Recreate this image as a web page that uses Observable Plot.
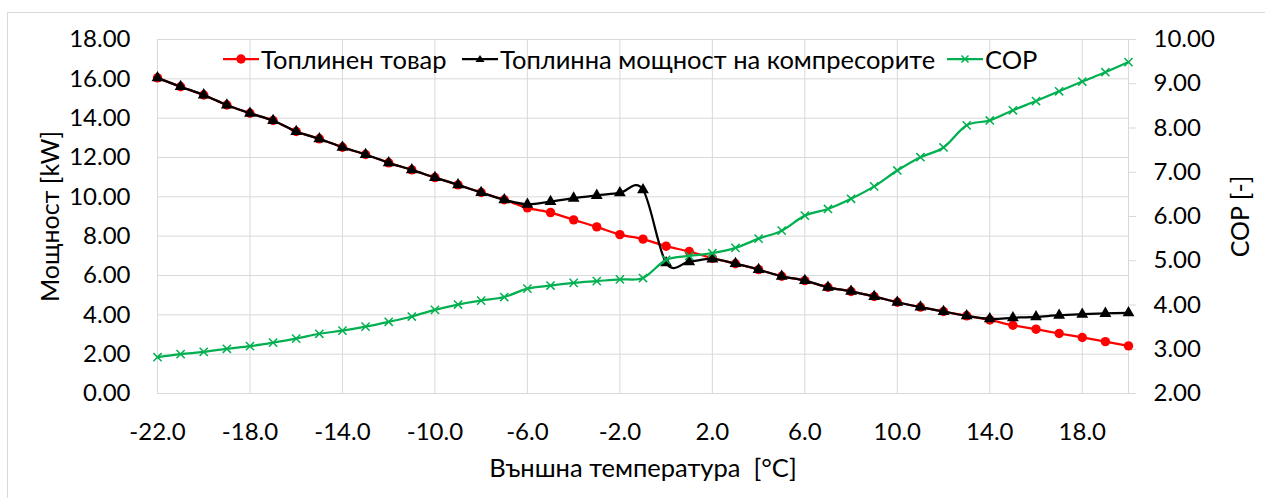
<!DOCTYPE html>
<html>
<head>
<meta charset="utf-8">
<script src="https://cdn.jsdelivr.net/npm/d3@7"></script>
<script src="https://cdn.jsdelivr.net/npm/@observablehq/plot@0.6"></script>
<style>
  html, body { margin: 0; padding: 0; background: #fff; }
  #wrap { position: relative; width: 1265px; height: 498px; overflow: hidden; font-family: Lato, "Open Sans", sans-serif; }
  #border { position: absolute; left: 7px; top: 12px; right: -10px; bottom: -10px; border-left: 1.5px solid #d9d9d9; border-top: 1.5px solid #d9d9d9; }
  .leg { position: absolute; top: 46px; height: 26px; display: flex; align-items: center; font-size: 25.5px; color: #000; white-space: nowrap; }
  .leg svg { display: block; }
  .leg span { margin-left: 2px; line-height: 26px; }
</style>
</head>
<body>
<div id="wrap">
  <div id="border"></div>
  <div id="chart"></div>
  <div id="legend"></div>
</div>
<script>
const temperature = [-22,-21,-20,-19,-18,-17,-16,-15,-14,-13,-12,-11,-10,-9,-8,-7,-6,-5,-4,-3,-2,-1,0,1,2,3,4,5,6,7,8,9,10,11,12,13,14,15,16,17,18,19,20];
const heatLoad = [16.05,15.6,15.18,14.67,14.25,13.88,13.32,12.95,12.52,12.15,11.73,11.37,10.98,10.61,10.22,9.85,9.44,9.2,8.83,8.47,8.08,7.85,7.49,7.22,6.88,6.6,6.3,5.96,5.74,5.4,5.19,4.93,4.64,4.39,4.17,3.95,3.74,3.47,3.27,3.05,2.85,2.64,2.42];
const compressorPower = [16.05,15.6,15.18,14.67,14.25,13.88,13.32,12.95,12.52,12.15,11.73,11.37,10.98,10.61,10.22,9.85,9.62,9.76,9.93,10.07,10.2,10.36,6.64,6.7,6.84,6.6,6.3,5.96,5.74,5.4,5.19,4.93,4.64,4.39,4.17,3.95,3.8,3.85,3.9,3.98,4.03,4.07,4.1];
const cop = [2.82,2.89,2.94,3.01,3.07,3.15,3.24,3.35,3.42,3.51,3.62,3.74,3.89,4.01,4.10,4.18,4.37,4.44,4.50,4.54,4.58,4.61,5.02,5.11,5.17,5.29,5.50,5.68,6.02,6.17,6.40,6.68,7.04,7.34,7.56,8.06,8.17,8.40,8.61,8.83,9.05,9.26,9.49];

const xTicks = [-22,-18,-14,-10,-6,-2,2,6,10,14,18];
const leftTicks = [0,2,4,6,8,10,12,14,16,18];
const copTicks = [2,3,4,5,6,7,8,9,10];

const seriesNames = ["Топлинен товар", "Топлинна мощност на компресорите", "COP"];
const seriesColors = ["#ff0000", "#000000", "#00b050"];
const xLabel = "Външна температура  [°C]";
const yLabel = "Мощност [kW]";
const y2Label = "COP [-]";

// secondary axis mapping: COP [2,10] onto primary [0,18]
const toLeft = c => (c - 2) * 18 / 8;
const fromLeft = v => v * 8 / 18 + 2;

const rows = temperature.map((t, i) => ({t, heat: heatLoad[i], comp: compressorPower[i], cop: toLeft(cop[i])}));

const chart = Plot.plot({
  width: 1265,
  height: 498,
  marginLeft: 157,
  marginRight: 137,
  marginTop: 39,
  marginBottom: 105,
  x: {domain: [-22, 20]},
  y: {domain: [0, 18]},
  style: {fontFamily: "Lato, 'Open Sans', sans-serif", fontSize: "24px", color: "#000", background: "transparent", overflow: "visible"},
  marks: [
    Plot.gridY(leftTicks, {stroke: "#d9d9d9", strokeOpacity: 1, strokeWidth: 1}),
    Plot.gridX(xTicks, {stroke: "#d9d9d9", strokeOpacity: 1, strokeWidth: 1}),
    Plot.frame({stroke: "#d9d9d9", strokeWidth: 1}),
    Plot.axisY(leftTicks, {tickSize: 0, tickPadding: 27, tickFormat: d => d.toFixed(2), label: null, fill: "#000"}),
    Plot.axisY(copTicks.map(toLeft), {anchor: "right", tickSize: 7, tickPadding: 18, stroke: "#d9d9d9", fill: "#000", tickFormat: d => fromLeft(d).toFixed(2), label: null}),
    Plot.axisX(xTicks, {tickSize: 0, tickPadding: 29, tickFormat: d => d.toFixed(1), label: null, fill: "#000"}),
    Plot.text([yLabel], {frameAnchor: "left", rotate: -90, dx: -107, textAnchor: "middle", lineAnchor: "middle", fill: "#000", fontSize: 25}),
    Plot.text([y2Label], {frameAnchor: "right", rotate: -90, dx: 112, textAnchor: "middle", lineAnchor: "middle", fill: "#000", fontSize: 25}),
    Plot.text([xLabel], {frameAnchor: "bottom", dy: 75, textAnchor: "middle", lineAnchor: "middle", fill: "#000", fontSize: 25.5}),
    Plot.line(rows, {x: "t", y: "heat", stroke: seriesColors[0], strokeWidth: 2.25, curve: "cardinal", tension: 0}),
    Plot.dot(rows, {x: "t", y: "heat", r: 4.7, fill: seriesColors[0], stroke: "none"}),
    Plot.line(rows, {x: "t", y: "comp", stroke: seriesColors[1], strokeWidth: 2.25, curve: "cardinal", tension: 0}),
    Plot.dot(rows, {x: "t", y: "comp", r: 4.4, symbol: "triangle", fill: seriesColors[1], stroke: "none"}),
    Plot.line(rows, {x: "t", y: "cop", stroke: seriesColors[2], strokeWidth: 2.25, curve: "cardinal", tension: 0}),
    Plot.dot(rows, {x: "t", y: "cop", r: 3.8, symbol: "times", stroke: seriesColors[2], strokeWidth: 1.5, fill: "none"})
  ]
});
document.getElementById("chart").appendChild(chart);

// legend (inside plot area, top)
const legendItems = [
  {name: seriesNames[0], color: seriesColors[0], left: 223, marker: "circle"},
  {name: seriesNames[1], color: seriesColors[1], left: 462, marker: "triangle"},
  {name: seriesNames[2], color: seriesColors[2], left: 947, marker: "times"}
];
const legend = document.getElementById("legend");
for (const it of legendItems) {
  const d = document.createElement("div");
  d.className = "leg";
  d.style.left = it.left + "px";
  let m = "";
  if (it.marker === "circle") m = `<circle cx="18" cy="13" r="4.7" fill="${it.color}"/>`;
  if (it.marker === "triangle") m = `<path d="M18,9 L22.5,16 L13.5,16 Z" fill="${it.color}"/>`;
  if (it.marker === "times") m = `<path d="M14.5,9.5 L21.5,16.5 M21.5,9.5 L14.5,16.5" stroke="${it.color}" stroke-width="1.5"/>`;
  d.innerHTML = `<svg width="36" height="26"><line x1="0" x2="36" y1="13" y2="13" stroke="${it.color}" stroke-width="2.25"/>${m}</svg><span>${it.name}</span>`;
  legend.appendChild(d);
}
</script>
</body>
</html>
